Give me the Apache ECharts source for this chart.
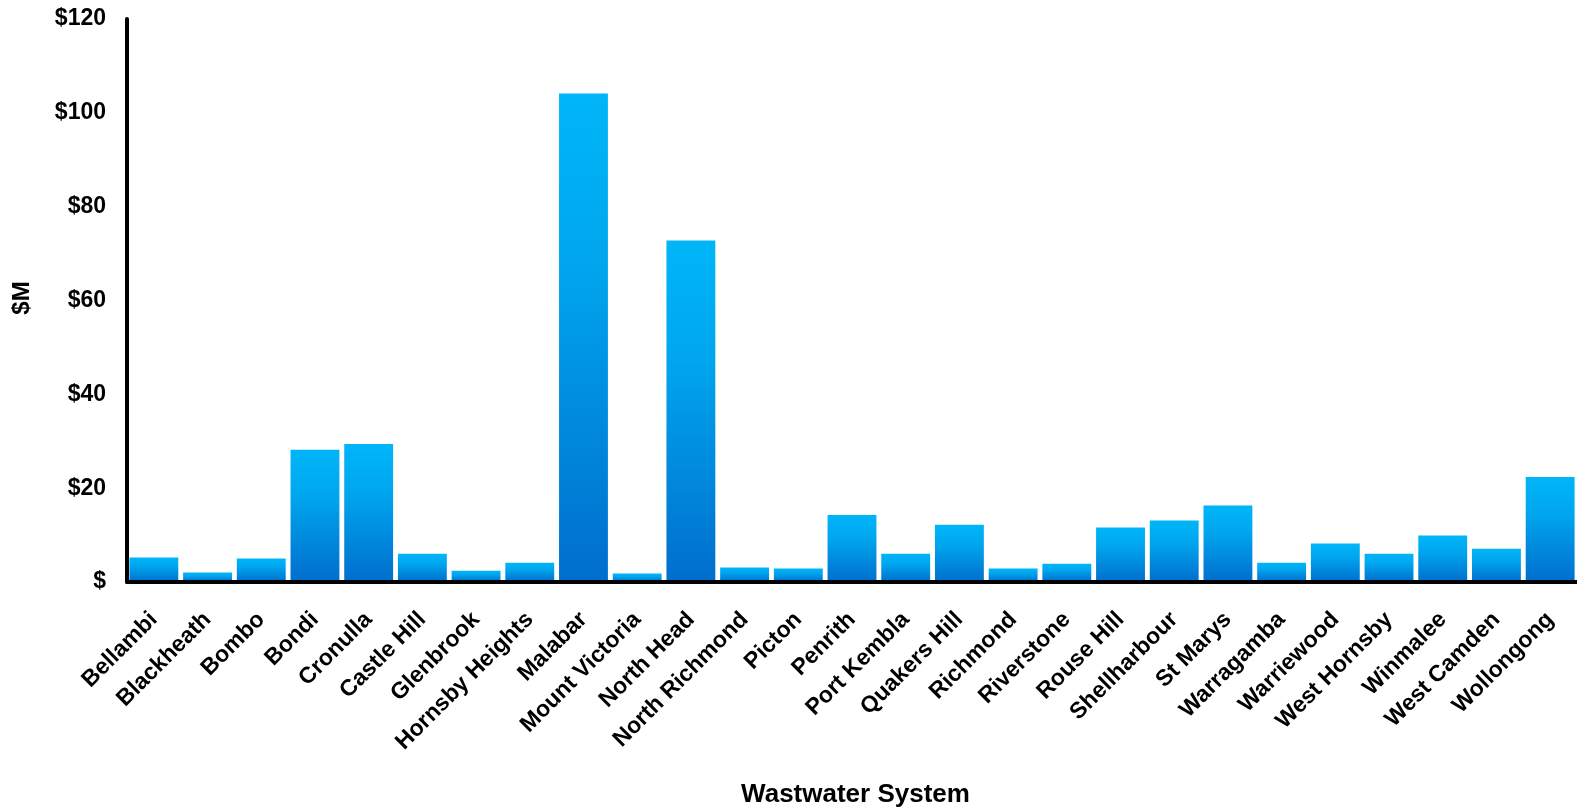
<!DOCTYPE html>
<html>
<head>
<meta charset="utf-8">
<title>Wastewater System Spend</title>
<script src="https://cdn.jsdelivr.net/npm/echarts@6/dist/echarts.min.js"></script>
<style>
  html, body { margin: 0; padding: 0; background: #ffffff; }
  #chart { width: 1577px; height: 810px; }
</style>
</head>
<body>
<div id="chart"></div>
<script>
// Wastewater systems along the category axis
const systems = [
  'Bellambi', 'Blackheath', 'Bombo', 'Bondi', 'Cronulla', 'Castle Hill',
  'Glenbrook', 'Hornsby Heights', 'Malabar', 'Mount Victoria', 'North Head',
  'North Richmond', 'Picton', 'Penrith', 'Port Kembla', 'Quakers Hill',
  'Richmond', 'Riverstone', 'Rouse Hill', 'Shellharbour', 'St Marys',
  'Warragamba', 'Warriewood', 'West Hornsby', 'Winmalee', 'West Camden',
  'Wollongong'
];

// Spend per system, $M
const spendMillions = [
  5.2, 2.0, 5.0, 28.2, 29.4, 6.0,
  2.4, 4.1, 104.1, 1.8, 72.8,
  3.1, 2.9, 14.3, 6.0, 12.2,
  2.9, 3.9, 11.6, 13.1, 16.3,
  4.1, 8.2, 6.0, 9.9, 7.1,
  22.4
];

// Value axis range and step
const valueMin = 0;
const valueMax = 120;
const valueStep = 20;

const labelFont = '"Liberation Sans", Arial, Helvetica, sans-serif';

const chart = echarts.init(document.getElementById('chart'), null, { renderer: 'canvas' });

const barFill = new echarts.graphic.LinearGradient(0, 0, 0, 1, [
  { offset: 0, color: '#00B6F8' },
  { offset: 0.35, color: '#00A6EE' },
  { offset: 1, color: '#006ECD' }
]);

chart.setOption({
  animation: false,
  backgroundColor: '#ffffff',
  grid: {
    left: 127, right: 0, top: 19, bottom: 228,
    containLabel: false,
    outerBoundsMode: 'none'
  },
  xAxis: {
    type: 'category',
    data: systems,
    z: 5,
    name: 'Wastwater System',
    nameLocation: 'middle',
    nameGap: 200,
    nameTextStyle: {
      fontFamily: labelFont, fontWeight: 'bold', fontSize: 26, color: '#000000',
      verticalAlign: 'top',
      padding: [0, 0, 0, 7]
    },
    axisLine: { show: true, lineStyle: { color: '#000000', width: 4 } },
    axisTick: { show: false },
    axisLabel: {
      interval: 0,
      rotate: 45,
      margin: 34,
      fontFamily: labelFont, fontWeight: 'bold', fontSize: 23, color: '#000000'
    },
    splitLine: { show: false }
  },
  yAxis: {
    type: 'value',
    min: valueMin,
    max: valueMax,
    interval: valueStep,
    z: 5,
    name: '$M',
    nameLocation: 'middle',
    nameRotate: 90,
    nameGap: 93,
    nameTextStyle: {
      fontFamily: labelFont, fontWeight: 'bold', fontSize: 24, color: '#000000',
      padding: [0, 0, 0, 5]
    },
    axisLine: { show: true, lineStyle: { color: '#000000', width: 4 } },
    axisTick: { show: false },
    axisLabel: {
      margin: 21,
      fontFamily: labelFont, fontWeight: 'bold', fontSize: 23, color: '#000000',
      formatter: v => (v === 0 ? '$' : '$' + v)
    },
    splitLine: { show: false }
  },
  series: [{
    type: 'bar',
    data: spendMillions,
    barCategoryGap: '9%',
    itemStyle: { color: barFill }
  }]
});
</script>
</body>
</html>
